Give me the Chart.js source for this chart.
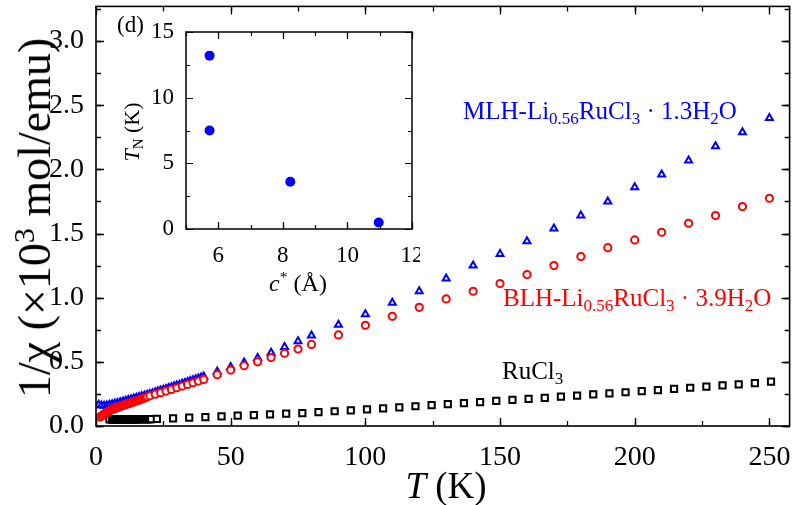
<!DOCTYPE html>
<html>
<head>
    <title>1/chi vs T</title>
    <script src="https://cdn.jsdelivr.net/npm/chart.js"></script>
    <style>
        body { margin: 0; background: #fff; }
        #wrap { position: relative; width: 796px; height: 505px; font-family: 'Liberation Serif', 'Times New Roman', serif; }
        #main { position: absolute; left: 0; top: 0; }
        #inset { position: absolute; left: 140px; top: 20px; }
        .lbl { position: absolute; white-space: nowrap; line-height: 1; }
        .lbl sub { font-size: 0.68em; vertical-align: -0.3em; line-height: 0; }
        .lbl sup { font-size: 0.65em; vertical-align: 0.55em; line-height: 0; }
        .rot { transform: translate(-50%, -50%) rotate(-90deg); }
    </style>
</head>
<body>
<div id="wrap">
    <canvas id="main" width="796" height="505"></canvas>
    <canvas id="inset" width="280" height="250"></canvas>

    <div class="lbl rot" style="left:35px; top:218px; font-size:46px;">1/χ (×10<sup>3</sup> mol/emu)</div>
    <div class="lbl" style="left:446px; top:485px; font-size:37px; transform:translate(-50%,-50%);"><i>T</i> (K)</div>
    <div class="lbl" style="left:117px; top:13px; font-size:23px;">(d)</div>
    <div class="lbl rot" style="left:132px; top:132px; font-size:22px;"><i>T</i><sub>N</sub> (K)</div>
    <div class="lbl" style="left:298px; top:283px; font-size:24px; transform:translate(-50%,-50%);"><i>c</i><sup>*</sup> (Å)</div>

    <div class="lbl" style="left:463px; top:98px; font-size:25px; color:#0000ff;">MLH-Li<sub>0.56</sub>RuCl<sub>3</sub> · 1.3H<sub>2</sub>O</div>
    <div class="lbl" style="left:503px; top:285px; font-size:25px; color:#ff0000;">BLH-Li<sub>0.56</sub>RuCl<sub>3</sub> · 3.9H<sub>2</sub>O</div>
    <div class="lbl" style="left:502px; top:358px; font-size:25px; color:#000;">RuCl<sub>3</sub></div>
</div>

<script>
    // MLH-Li0.56RuCl3·1.3H2O (blue triangles)
    const mlhT = [1, 2, 3, 4, 5, 6, 7, 8, 9, 10, 11, 12, 13, 14, 15, 16, 17, 18, 19, 20,
        21, 22, 23, 24, 25, 26, 27, 28, 29, 30, 31, 32, 33, 34, 35, 36, 37, 38, 39, 40,
        45, 50, 55, 60, 65, 70, 75, 80, 90, 100, 110, 120, 130, 140, 150, 160, 170, 180,
        190, 200, 210, 220, 230, 240, 250];
    const mlhInv = [0.165, 0.16, 0.158, 0.16, 0.165, 0.17, 0.175, 0.18, 0.185, 0.19, 0.196, 0.202, 0.208, 0.214, 0.22, 0.226, 0.232, 0.238, 0.244, 0.25,
        0.256, 0.263, 0.27, 0.276, 0.283, 0.289, 0.296, 0.302, 0.309, 0.315, 0.322, 0.329, 0.336, 0.343, 0.35, 0.357, 0.364, 0.371, 0.378, 0.385,
        0.425, 0.46, 0.495, 0.53, 0.57, 0.615, 0.66, 0.705, 0.79, 0.87, 0.96, 1.05, 1.15, 1.25, 1.34, 1.44, 1.54, 1.64,
        1.75, 1.86, 1.96, 2.07, 2.18, 2.29, 2.40];

    // BLH-Li0.56RuCl3·3.9H2O (red circles)
    const blhT = [1.5, 2, 2.5, 3, 3.5, 4, 4.5, 5, 5.5, 6, 6.5, 7, 7.5, 8, 8.5, 9, 9.5, 10, 10.5, 11,
        11.5, 12, 12.5, 13, 13.5, 14, 14.5, 15, 15.5, 16, 16.5, 17, 17.5, 18, 18.5, 19,
        20, 22, 24, 26, 28, 30, 32, 34, 36, 38, 40,
        45, 50, 55, 60, 65, 70, 75, 80, 90, 100, 110, 120, 130, 140, 150, 160, 170, 180,
        190, 200, 210, 220, 230, 240, 250];
    const blhInv = [0.07, 0.078, 0.086, 0.093, 0.1, 0.107, 0.113, 0.119, 0.124, 0.129, 0.133, 0.137, 0.141, 0.145, 0.149, 0.153, 0.156, 0.16, 0.164, 0.167,
        0.171, 0.174, 0.178, 0.181, 0.185, 0.188, 0.192, 0.195, 0.199, 0.203, 0.207, 0.211, 0.215, 0.219, 0.223, 0.227,
        0.235, 0.248, 0.26, 0.272, 0.285, 0.298, 0.311, 0.324, 0.337, 0.35, 0.363,
        0.40, 0.436, 0.47, 0.50, 0.533, 0.567, 0.60, 0.636, 0.71, 0.785, 0.855, 0.925, 0.99, 1.05, 1.11, 1.18, 1.25, 1.32,
        1.39, 1.45, 1.51, 1.58, 1.64, 1.71, 1.775];

    // RuCl3 (black squares)
    const rucT = [5, 6, 6.5, 7, 7.5, 8, 8.5, 9, 9.5, 10, 10.5, 11, 11.5, 12, 12.5, 13, 13.5, 14, 14.5, 15,
        15.5, 16, 16.5, 17, 17.5, 18, 18.5, 19, 19.5, 20, 20.5,
        22.6, 28.6, 34.6, 40.6, 46.6, 52.6, 58.6, 64.6, 70.6, 76.6, 82.6, 88.6, 94.6, 100.6, 106.6, 112.6,
        118.6, 124.6, 130.6, 136.6, 142.6, 148.6, 154.6, 160.6, 166.6, 172.6, 178.6, 184.6, 190.6, 196.6,
        202.6, 208.6, 214.6, 220.6, 226.6, 232.6, 238.6, 244.6, 250.6];
    const rucInv = [0.052, 0.05, 0.05, 0.05, 0.05, 0.05, 0.05, 0.05, 0.05, 0.051, 0.051, 0.051, 0.051, 0.051, 0.051, 0.052, 0.052, 0.052, 0.052, 0.052,
        0.052, 0.053, 0.053, 0.053, 0.053, 0.053, 0.053, 0.054, 0.054, 0.054, 0.054,
        0.055, 0.06, 0.065, 0.07, 0.075, 0.08, 0.085, 0.09, 0.096, 0.101, 0.108, 0.115, 0.122, 0.13, 0.138, 0.146,
        0.154, 0.162, 0.17, 0.178, 0.186, 0.195, 0.203, 0.212, 0.22, 0.229, 0.237, 0.246, 0.254, 0.263,
        0.271, 0.28, 0.289, 0.298, 0.307, 0.316, 0.325, 0.334, 0.345];

    // inset: T_N vs c*
    const cStar = [5.73, 5.73, 8.23, 10.97];
    const tNeel = [13.2, 7.5, 3.6, 0.5];

    const xTicksMain = [0, 50, 100, 150, 200, 250];
    const yTicksMain = [0, 0.5, 1.0, 1.5, 2.0, 2.5, 3.0];

    const pts = (xs, ys) => xs.map((x, i) => ({x: x, y: ys[i]}));
    const serif = "'Liberation Serif', 'Times New Roman', serif";

    // fix the axis box and drop the edge-label padding chart.js adds
    const fixBox = (w, h) => s => {
        if (w != null) s.width = w;
        if (h != null) s.height = h;
        s.paddingTop = 0; s.paddingBottom = 0; s.paddingLeft = 0; s.paddingRight = 0;
    };

    // inward ticks on all four sides + frame
    const inTicks = {
        id: 'inTicks',
        afterDraw(chart, args, o) {
            const {ctx, chartArea: a, scales: {x, y}} = chart;
            ctx.save();
            ctx.strokeStyle = '#000';
            ctx.lineWidth = o.tickWidth;
            const mark = (scale, step, len) => {
                const n0 = Math.ceil(scale.min / step - 1e-9);
                const n1 = Math.floor(scale.max / step + 1e-9);
                for (let n = n0; n <= n1; n++) {
                    const p = Math.round(scale.getPixelForValue(n * step)) + 0.5;
                    ctx.beginPath();
                    if (scale.isHorizontal()) {
                        ctx.moveTo(p, a.bottom); ctx.lineTo(p, a.bottom - len);
                        ctx.moveTo(p, a.top); ctx.lineTo(p, a.top + len);
                    } else {
                        ctx.moveTo(a.left, p); ctx.lineTo(a.left + len, p);
                        ctx.moveTo(a.right, p); ctx.lineTo(a.right - len, p);
                    }
                    ctx.stroke();
                }
            };
            mark(x, o.xMinor, o.minor);
            mark(x, o.xMajor, o.major);
            mark(y, o.yMinor, o.minor);
            mark(y, o.yMajor, o.major);
            ctx.lineWidth = o.frame;
            ctx.strokeRect(a.left, a.top, a.right - a.left, a.bottom - a.top);
            ctx.restore();
        }
    };

    new Chart(document.getElementById('main'), {
        type: 'scatter',
        data: {
            datasets: [{
                label: 'BLH',
                data: pts(blhT, blhInv),
                pointStyle: 'circle',
                pointRadius: 3.6,
                borderWidth: 2,
                borderColor: '#ff0000',
                backgroundColor: '#ffffff',
                order: 0
            }, {
                label: 'MLH',
                data: pts(mlhT, mlhInv),
                pointStyle: 'triangle',
                pointRadius: 4,
                borderWidth: 2,
                borderColor: '#0000ff',
                backgroundColor: '#ffffff',
                order: 1
            }, {
                label: 'RuCl3',
                data: pts(rucT, rucInv),
                pointStyle: 'rect',
                pointRadius: 4.4,
                borderWidth: 2,
                borderColor: '#000000',
                backgroundColor: '#ffffff',
                order: 2
            }]
        },
        options: {
            responsive: false,
            animation: false,
            devicePixelRatio: 1,
            layout: { padding: { top: 1, right: 3, left: 0, bottom: 0 } },
            plugins: {
                legend: { display: false },
                tooltip: { enabled: false },
                inTicks: { xMajor: 50, xMinor: 25, yMajor: 0.5, yMinor: 0.25, major: 8, minor: 5, tickWidth: 1.3, frame: 1.6 }
            },
            scales: {
                x: {
                    type: 'linear', min: 0, max: 257.5,
                    grid: { display: false }, border: { display: false },
                    afterBuildTicks: s => { s.ticks = xTicksMain.map(v => ({value: v})); },
                    afterFit: fixBox(null, 79),
                    ticks: { color: '#000', padding: 7, maxRotation: 0, font: { family: serif, size: 28 } }
                },
                y: {
                    type: 'linear', min: 0, max: 3.27,
                    grid: { display: false }, border: { display: false },
                    afterBuildTicks: s => { s.ticks = yTicksMain.map(v => ({value: v})); },
                    afterFit: fixBox(96, null),
                    ticks: { color: '#000', padding: 4, font: { family: serif, size: 28 }, callback: v => v.toFixed(1) }
                }
            }
        },
        plugins: [inTicks]
    });

    new Chart(document.getElementById('inset'), {
        type: 'scatter',
        data: {
            datasets: [{
                data: pts(cStar, tNeel),
                pointStyle: 'circle',
                pointRadius: 5,
                borderWidth: 0,
                backgroundColor: '#0000ff'
            }]
        },
        options: {
            responsive: false,
            animation: false,
            devicePixelRatio: 1,
            layout: { padding: { top: 12, right: 8, left: 0, bottom: 0 } },
            plugins: {
                legend: { display: false },
                tooltip: { enabled: false },
                inTicks: { xMajor: 2, xMinor: 1, yMajor: 5, yMinor: 2.5, major: 7, minor: 4, tickWidth: 1.2, frame: 1.5 }
            },
            scales: {
                x: {
                    type: 'linear', min: 5, max: 12,
                    grid: { display: false }, border: { display: false },
                    afterFit: fixBox(null, 41),
                    ticks: { stepSize: 2, includeBounds: false, color: '#000', padding: 5, maxRotation: 0, font: { family: serif, size: 23 } }
                },
                y: {
                    type: 'linear', min: 0, max: 15,
                    grid: { display: false }, border: { display: false },
                    afterFit: fixBox(46, null),
                    ticks: { stepSize: 5, includeBounds: false, color: '#000', padding: 4, font: { family: serif, size: 23 } }
                }
            }
        },
        plugins: [inTicks]
    });
</script>
</body>
</html>
